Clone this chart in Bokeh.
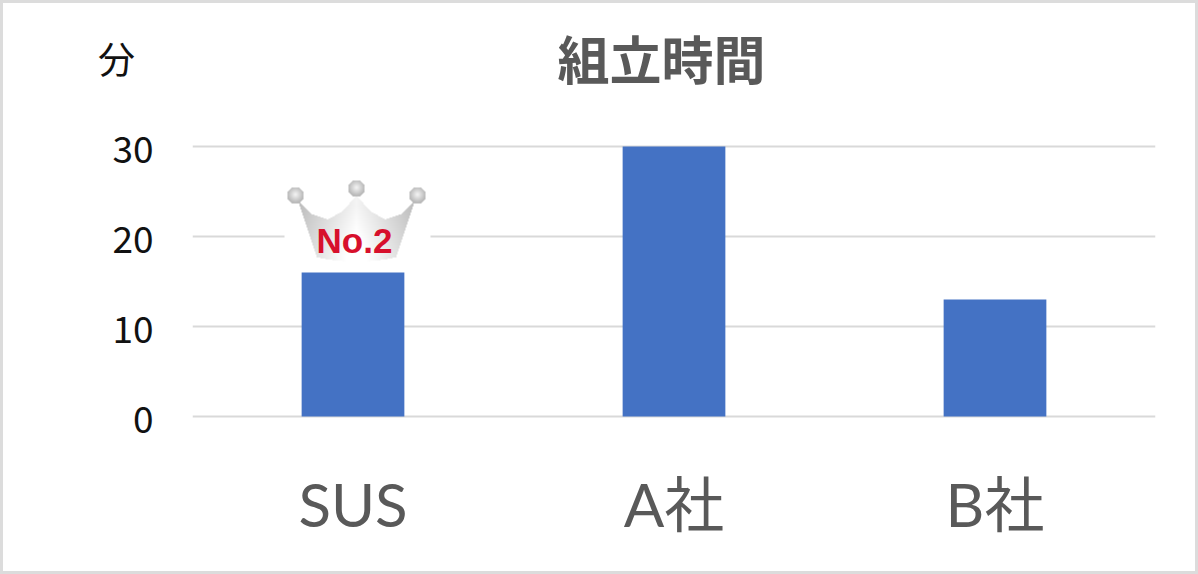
import numpy as np
from bokeh.plotting import figure
from bokeh.embed import file_html
from bokeh.resources import INLINE
from bokeh.models import Range1d, FixedTicker
from bokeh.core.properties import value

categories = ["SUS", "A社", "B社"]
minutes = [16, 30, 13]
y_ticks = [0, 10, 20, 30]
chart_title = "組立時間"
unit_label = "分"
badge_text = "No.2"

CJK = "Noto Sans CJK JP"
W, H = 1198, 574
FRAME_LEFT, FRAME_BOTTOM = 192, 425
PX_PER_UNIT = 9
UNIT_POS = 39.8
slots = [i + 0.5 for i in range(len(categories))]
p = figure(width=W, height=H, title=None, x_range=Range1d(0, len(categories)),
           y_range=Range1d(-1, FRAME_BOTTOM / PX_PER_UNIT - 1), output_backend="svg", toolbar_location=None,
           min_border_left=FRAME_LEFT, min_border_right=43, min_border_top=0, min_border_bottom=H - FRAME_BOTTOM)
p.styles = {"outline": "3px solid #dcdcdc", "outline-offset": "-3px", "background-color": "white"}
p.outline_line_color = None
p.background_fill_color = None
p.border_fill_color = None

# Axes
p.yaxis.ticker = FixedTicker(ticks=y_ticks + [UNIT_POS])
p.yaxis.major_label_overrides = {UNIT_POS: unit_label + "\u2002"}
p.yaxis.axis_line_color = None
p.yaxis.major_tick_line_color = None
p.yaxis.minor_tick_line_color = None
p.yaxis.major_label_text_font = CJK
p.yaxis.major_label_text_font_size = "37px"
p.yaxis.major_label_text_color = "#111111"
p.yaxis.major_label_standoff = 33

p.xaxis.ticker = FixedTicker(ticks=slots)
p.xaxis.major_label_overrides = dict(zip(slots, categories))
p.xaxis.axis_line_color = None
p.xaxis.major_tick_line_color = None
p.xaxis.minor_tick_line_color = None
p.xaxis.major_label_text_font = "Lato, 'Noto Sans CJK JP'"
p.xaxis.major_label_text_font_size = "60px"
p.xaxis.major_label_text_color = "#595959"
p.xaxis.major_label_standoff = 36

p.xgrid.grid_line_color = None
p.ygrid.ticker = FixedTicker(ticks=y_ticks)
p.ygrid.grid_line_color = "#d9d9d9"
p.ygrid.grid_line_width = 2

# Bars
p.vbar(x=slots, top=minutes, bottom=0, width=0.32, color="#4472c4", line_color=None)

# Decoration layer in picture pixels
p.extra_x_ranges = {"px": Range1d(192, 1155)}
p.extra_y_ranges = {"py": Range1d(FRAME_BOTTOM, 0)}

# Crown raster
sx0, sx1, sy0, sy1 = 284, 430, 176, 266
S = 3
nx, ny = (sx1 - sx0) * S, (sy1 - sy0) * S
X, Y = np.meshgrid(sx0 + (np.arange(nx) + .5) / S, sy0 + (np.arange(ny) + .5) / S)

top_x = [299, 312, 327, 342, 356, 370, 385, 400, 413]
top_y = [202, 214, 219, 211, 195, 211, 219, 214, 202]
top = np.interp(X, top_x, top_y)
bottom = 261 - (np.abs(X - 356) / 39) ** 2 * 4
half = 58 - (np.clip(Y, 202, 258) - 202) / 56 * 19
body = (np.abs(X - 356) <= half) & (Y >= top) & (Y <= bottom)

shade = 0.74 + 0.22 * (1 - np.abs(X - 356) / 58) + 0.08 * np.clip((Y - 205) / 50, 0, 1)
rgba = np.ones((ny, nx, 4)) * 255
g = np.where(body, np.clip(shade, 0, 1) * 255, 255)
rgba[..., 0] = g; rgba[..., 1] = g; rgba[..., 2] = g
for cx, cy in [(295, 195), (356, 188), (417, 195)]:
    d = np.hypot(X - cx, Y - cy)
    ball = d <= 8.5
    lum = 185 + 60 * np.clip(1 - np.hypot(X - cx, Y - cy + 1) / 8, 0, 1)
    for k in range(3):
        rgba[..., k] = np.where(ball, lum, rgba[..., k])
img = rgba.astype(np.uint8)
packed = np.zeros((ny, nx), dtype=np.uint32)
view = packed.view(dtype=np.uint8).reshape((ny, nx, 4))
view[:] = img
p.image_rgba(image=[packed], x=sx0, y=sy0, dw=sx1 - sx0, dh=sy1 - sy0,
             x_range_name="px", y_range_name="py")

p.text(x=[354], y=[240], text=[badge_text], x_range_name="px", y_range_name="py",
       text_font=value("Liberation Sans"), text_font_style="bold", text_font_size="35px",
       text_color="#d7102c", text_align="center", text_baseline="middle")

# Chart title, inside the tall frame
p.text(x=[661], y=[57], text=[chart_title], x_range_name="px", y_range_name="py",
       text_font=value(CJK), text_font_style="bold", text_font_size="52px",
       text_color="#595959", text_align="center", text_baseline="middle")

open("out.html", "w").write(file_html(p, INLINE))
